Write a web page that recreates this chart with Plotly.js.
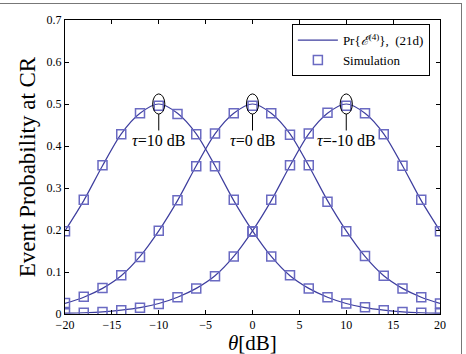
<!DOCTYPE html>
<html>
<head>
<meta charset="utf-8">
<script src="https://cdn.plot.ly/plotly-3.0.1.min.js"></script>
<style>
  html, body { margin: 0; padding: 0; background: #fff; }
  #wrap { position: relative; width: 466px; height: 354px; }
  #chart { width: 466px; height: 354px; }
  #frame { position: absolute; left: -2px; top: 3px; width: 464px; height: 360px;
           border: 1px solid #777; pointer-events: none; box-sizing: border-box; }
</style>
</head>
<body>
<div id="wrap">
  <div id="chart"></div>
  <div id="frame"></div>
</div>
<script>
// SNR offset theta [dB]
const theta = [-20, -18, -16, -14, -12, -10, -8, -6, -4, -2, 0, 2, 4, 6, 8, 10, 12, 14, 16, 18, 20];

// Analytical event probability, eq. (21d), for each threshold tau
const theoryTau10  = [0.198, 0.270, 0.353, 0.429, 0.478, 0.500, 0.478, 0.429, 0.353, 0.270, 0.198, 0.137, 0.091, 0.061, 0.040, 0.025, 0.015, 0.009, 0.005, 0.003, 0.002];
const theoryTau0   = [0.025, 0.040, 0.061, 0.091, 0.137, 0.198, 0.270, 0.353, 0.429, 0.478, 0.500, 0.478, 0.429, 0.353, 0.270, 0.198, 0.137, 0.091, 0.061, 0.040, 0.025];
const theoryTauM10 = [0.002, 0.003, 0.005, 0.009, 0.015, 0.025, 0.040, 0.061, 0.091, 0.137, 0.198, 0.270, 0.353, 0.429, 0.478, 0.500, 0.478, 0.429, 0.353, 0.270, 0.198];

// Monte Carlo estimates
const simTau10  = [0.197, 0.272, 0.354, 0.428, 0.478, 0.496, 0.476, 0.428, 0.352, 0.272, 0.197, 0.137, 0.092, 0.061, 0.040, 0.025, 0.016, 0.009, 0.005, 0.003, 0.002];
const simTau0   = [0.026, 0.041, 0.062, 0.092, 0.136, 0.198, 0.271, 0.352, 0.430, 0.478, 0.496, 0.478, 0.427, 0.354, 0.267, 0.197, 0.138, 0.091, 0.061, 0.040, 0.025];
const simTauM10 = [0.002, 0.003, 0.005, 0.009, 0.015, 0.024, 0.040, 0.061, 0.090, 0.137, 0.196, 0.272, 0.354, 0.430, 0.479, 0.496, 0.478, 0.428, 0.353, 0.272, 0.197];

// Peak labels
const tauLabels = ['<i>τ</i>=10 dB', '<i>τ</i>=0 dB', '<i>τ</i>=-10 dB'];
const tauPeaks  = [-10, 0, 10];
const peakValue = 0.5;

const lineColor = '#3d3d9e';
const markColor = '#6a6ac2';
const serif = '"Liberation Serif", "Times New Roman", serif';

const theoryCurves = [theoryTau10, theoryTau0, theoryTauM10];
const simCurves = [simTau10, simTau0, simTauM10];

const traces = [];
theoryCurves.forEach((ys, i) => {
  traces.push({
    x: theta, y: ys, type: 'scatter', mode: 'lines',
    line: { color: lineColor, width: 1.2, shape: 'spline', smoothing: 0.8 },
    name: 'Pr{<i>ℰ</i><sup>(4)</sup>},  (21d)',
    showlegend: i === 0, legendgroup: 'theory', hoverinfo: 'skip'
  });
});
simCurves.forEach((ys, i) => {
  traces.push({
    x: theta, y: ys, type: 'scatter', mode: 'markers',
    marker: { symbol: 'square-open', size: 9, color: markColor, line: { width: 1.5, color: markColor } },
    name: 'Simulation',
    showlegend: i === 0, legendgroup: 'sim', hoverinfo: 'skip'
  });
});

const shapes = [];
const annotations = [];
tauPeaks.forEach((p, i) => {
  shapes.push({ type: 'circle', xref: 'x', yref: 'y',
    x0: p - 0.65, x1: p + 0.65, y0: peakValue - 0.024, y1: peakValue + 0.024,
    line: { color: '#000', width: 1 } });
  shapes.push({ type: 'line', xref: 'x', yref: 'y',
    x0: p, x1: p, y0: peakValue - 0.024, y1: peakValue - 0.063,
    line: { color: '#000', width: 1 } });
  annotations.push({ x: p, y: peakValue - 0.087, xref: 'x', yref: 'y',
    text: tauLabels[i], showarrow: false,
    font: { family: serif, size: 16, color: '#000' } });
});

// x-axis title placed below the tick labels
annotations.push({ x: 0.5, y: -0.098, xref: 'paper', yref: 'paper',
  xanchor: 'center', yanchor: 'middle', text: '<i>θ</i>[dB]', showarrow: false,
  font: { family: serif, size: 21, color: '#000' } });

const axisCommon = {
  showline: true, linecolor: '#000', linewidth: 1, mirror: 'ticks',
  ticks: 'inside', ticklen: 4, tickwidth: 1, tickcolor: '#000',
  showgrid: false, zeroline: false,
  tickfont: { family: serif, size: 12, color: '#000' }
};

const layout = {
  width: 466, height: 354,
  margin: { l: 65, r: 26, t: 20, b: 40 },
  paper_bgcolor: '#fff', plot_bgcolor: '#fff',
  font: { family: serif, color: '#000' },
  xaxis: Object.assign({}, axisCommon, {
    range: [-20, 20], tickvals: [-20, -15, -10, -5, 0, 5, 10, 15, 20]
  }),
  yaxis: Object.assign({}, axisCommon, {
    range: [0, 0.7], tickvals: [0, 0.1, 0.2, 0.3, 0.4, 0.5, 0.6, 0.7],
    ticktext: ['0', '0.1', '0.2', '0.3', '0.4', '0.5', '0.6', '0.7'],
    title: { text: 'Event Probability at CR', font: { family: serif, size: 23 }, standoff: 4 }
  }),
  legend: {
    x: 0.605, y: 0.986, xanchor: 'left', yanchor: 'top',
    bgcolor: '#fff', bordercolor: '#000', borderwidth: 1,
    font: { family: serif, size: 13, color: '#000' },
    tracegroupgap: 0, itemwidth: 40
  },
  shapes: shapes,
  annotations: annotations,
  showlegend: true
};

Plotly.newPlot('chart', traces, layout, { displayModeBar: false, staticPlot: true });
</script>
</body>
</html>
